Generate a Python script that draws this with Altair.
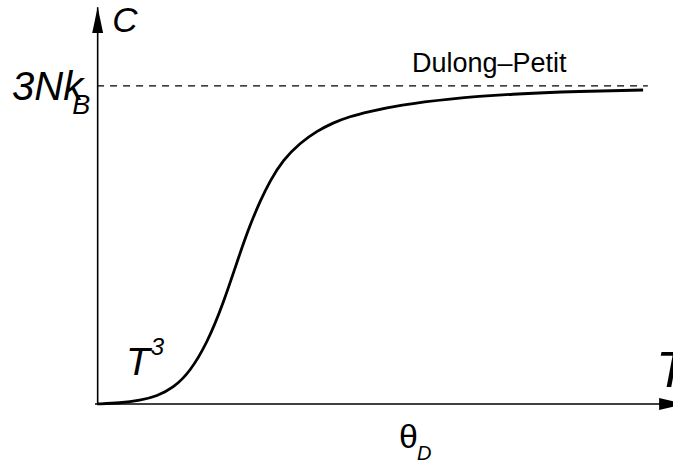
import altair as alt
import pandas as pd

# Debye heat capacity: C / 3Nk_B against T / theta_D
t_ratio = [0.0, 0.078, 0.145, 0.203, 0.257, 0.314, 0.372, 0.426, 0.483, 0.517,
           0.551, 0.584, 0.628, 0.686, 0.743, 0.797, 0.855, 0.912, 1.024, 1.182,
           1.405, 1.632, 1.845]
c_ratio = [0.0, 0.003, 0.011, 0.025, 0.050, 0.101, 0.192, 0.314, 0.475, 0.563,
           0.638, 0.701, 0.767, 0.821, 0.858, 0.884, 0.904, 0.918, 0.940, 0.959,
           0.975, 0.983, 0.987]

# Dulong-Petit limit (C = 3Nk_B) and where its dashed line stops
dp_level = 1.0
dp_end = 1.861

# Axis extents (data units)
x_axis_end = 1.943
y_axis_end = 1.207

label_texts = ["C", "3Nk", "B", "Dulong\u2013Petit", "T", "3", "T", "\u03b8", "D"]

curve = pd.DataFrame({"t": t_ratio, "c": c_ratio})

# visible window of the two scales
X_DOMAIN = [-0.328, 1.946]
Y_DOMAIN = [-0.195, 1.270]
FONT = "Liberation Sans"

xs = alt.Scale(domain=X_DOMAIN, nice=False, zero=False, clamp=False)
ys = alt.Scale(domain=Y_DOMAIN, nice=False, zero=False, clamp=False)


def X(field="t"):
    return alt.X(f"{field}:Q", scale=xs, axis=None)


def Y(field="c"):
    return alt.Y(f"{field}:Q", scale=ys, axis=None)


line = alt.Chart(curve).mark_line(
    color="black", strokeWidth=2.8, interpolate="basis"
).encode(x=X(), y=Y())

dashed = alt.Chart(pd.DataFrame({"t": [0.0], "t2": [dp_end], "c": [dp_level]})).mark_rule(
    color="black", strokeWidth=1.2, strokeDash=[7, 6]
).encode(x=X(), x2="t2:Q", y=Y())

x_axis = alt.Chart(pd.DataFrame({"t": [-0.007], "t2": [x_axis_end - 0.04], "c": [0.0]})).mark_rule(
    color="black", strokeWidth=1.6
).encode(x=X(), x2="t2:Q", y=Y())

y_axis = alt.Chart(pd.DataFrame({"t": [0.002], "c": [0.0], "c2": [y_axis_end + 0.04]})).mark_rule(
    color="black", strokeWidth=1.6
).encode(x=X(), y=Y(), y2="c2:Q")

up_head = alt.Chart(pd.DataFrame({"t": [0.002], "c": [y_axis_end]})).mark_point(
    shape="M0,-1L0.42,1L-0.42,1Z", size=676, filled=True, color="black", opacity=1
).encode(x=X(), y=Y())

right_head = alt.Chart(pd.DataFrame({"t": [x_axis_end], "c": [0.0]})).mark_point(
    shape="M1,0L-1,0.46L-1,-0.46Z", size=676, filled=True, color="black", opacity=1
).encode(x=X(), y=Y())

# annotation placement: (t, c, font size, style, align)
label_layout = [
    (0.051, 1.170, 35, "italic", "left"),
    (-0.047, 0.956, 40, "italic", "right"),
    (-0.084, 0.912, 27, "italic", "left"),
    (1.064, 1.044, 27, "normal", "left"),
    (0.098, 0.091, 39, "italic", "left"),
    (0.181, 0.154, 24, "italic", "left"),
    (1.889, 0.053, 50, "italic", "left"),
    (1.020, -0.138, 34, "normal", "left"),
    (1.081, -0.176, 20, "italic", "left"),
]

texts = []
for txt, (tx, cy, fs, style, align) in zip(label_texts, label_layout):
    texts.append(
        alt.Chart(pd.DataFrame({"t": [tx], "c": [cy], "label": [txt]})).mark_text(
            font=FONT, fontSize=fs, fontStyle=style, align=align,
            baseline="alphabetic", color="black"
        ).encode(x=X(), y=Y(), text="label:N")
    )

chart = alt.layer(
    dashed, x_axis, y_axis, up_head, right_head, line, *texts
).properties(
    width=673, height=466, autosize="none", padding=0, background="white"
).configure_view(stroke=None)

chart.save("out.html", embed_options={"renderer": "svg", "actions": False})
